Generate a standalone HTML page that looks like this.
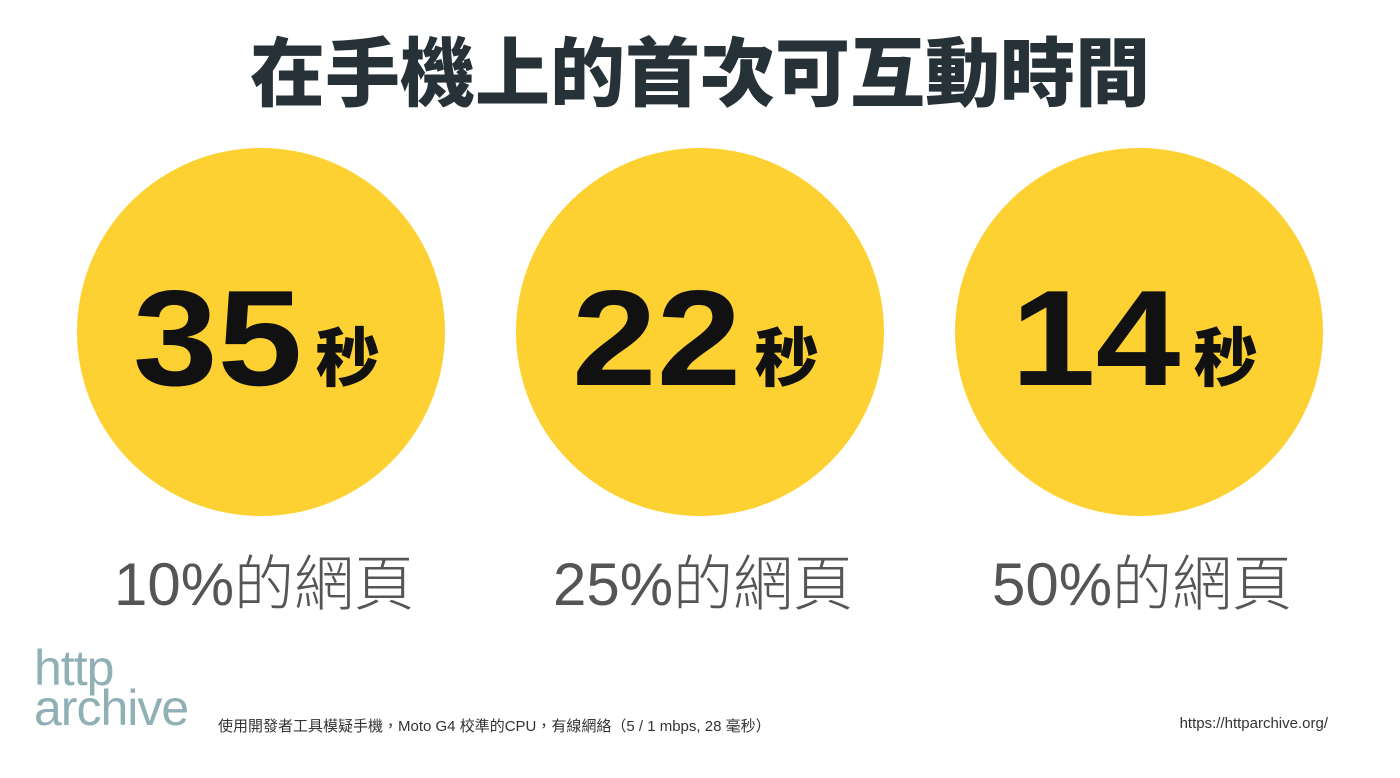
<!DOCTYPE html>
<html><head><meta charset="utf-8"><style>
body{margin:0;width:1400px;height:778px;background:#fff;overflow:hidden;position:relative;font-family:"Liberation Sans","Noto Sans CJK TC",sans-serif}
.t{position:absolute;left:0;width:1400px;text-align:center;top:20px;font-size:75px;font-weight:900;color:#263238;line-height:96px;font-family:"Noto Sans CJK TC",sans-serif}
.c{position:absolute;top:148px;width:368px;height:368px;border-radius:50%;background:#fdd131}
.n{position:absolute;top:238px;width:368px;text-align:center;line-height:200px;color:#111;font-weight:bold}
.n b{font-size:136px;font-family:"Liberation Sans",sans-serif;display:inline-block;transform:scaleX(1.12);margin-right:12px}
.n span{font-size:64px;font-family:"Noto Sans CJK TC",sans-serif;font-weight:900;margin-left:10px;position:relative;top:-4px}
.l{position:absolute;top:545px;width:368px;text-align:center;font-size:60px;color:#555;line-height:80px;font-weight:300;padding-left:6px;box-sizing:border-box}
.f{position:absolute;top:715px;font-size:15px;color:#333}
</style></head><body>
<div class="t">在手機上的首次可互動時間</div>
<div class="c" style="left:77px"></div>
<div class="c" style="left:516px"></div>
<div class="c" style="left:955px"></div>
<div class="n" style="left:77px"><b>35</b><span>秒</span></div>
<div class="n" style="left:516px"><b>22</b><span>秒</span></div>
<div class="n" style="left:955px"><b>14</b><span>秒</span></div>
<div class="l" style="left:77px">10%的網頁</div>
<div class="l" style="left:516px">25%的網頁</div>
<div class="l" style="left:955px">50%的網頁</div>
<div style="position:absolute;left:34px;top:648px;color:#8fb0b4;font-size:50px;line-height:40px;letter-spacing:-1px">http<br>archive</div>
<div class="f" style="left:218px">使用開發者工具模疑手機，Moto G4 校準的CPU，有線網絡（5 / 1 mbps, 28 毫秒）</div>
<div class="f" style="right:72px">https://httparchive.org/</div>
</body></html>
